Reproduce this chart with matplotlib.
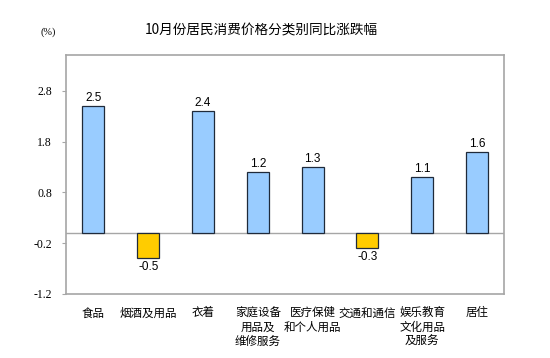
import numpy as np
import matplotlib
matplotlib.use('Agg')
import matplotlib.pyplot as plt

plt.rcParams['font.family'] = ['Noto Sans CJK SC', 'DejaVu Sans']

# data
categories = ['食品', '烟酒及用品', '衣着', '家庭设备\n用品及\n维修服务',
              '医疗保健\n和个人用品', '交通和通信', '娱乐教育\n文化用品\n及服务', '居住']
values = [2.5, -0.5, 2.4, 1.2, 1.3, -0.3, 1.1, 1.6]
yticks = [2.8, 1.8, 0.8, -0.2, -1.2]

pos_color = '#99CCFF'
neg_color = '#FFCC00'
frame_color = '#A6A6A6'

fig = plt.figure(figsize=(5.5, 3.58), dpi=100)
ax = fig.add_axes([0.12, 0.179, 0.797, 0.667])

x = np.arange(len(categories))
colors = [pos_color if v >= 0 else neg_color for v in values]
ax.bar(x, values, width=0.4, color=colors, edgecolor='#1F2A3A', linewidth=0.9, zorder=3)
ax.axhline(0, color=frame_color, linewidth=1.0, zorder=2)

for xi, v in zip(x, values):
    if v >= 0:
        ax.text(xi, v + 0.04, '{:.1f}'.format(v), ha='center', va='bottom',
                fontsize=8.5, family='Liberation Sans')
    else:
        ax.text(xi, v - 0.06, '{:.1f}'.format(v), ha='center', va='top',
                fontsize=8.5, family='Liberation Sans')

ax.set_xlim(-0.5, len(categories) - 0.5)
ax.set_ylim(-1.2, 3.5)
ax.set_yticks(yticks)
ax.set_yticklabels(['{:.1f}'.format(t) for t in yticks], family='Liberation Serif', fontsize=8.5)
ax.tick_params(axis='y', length=3, color=frame_color, pad=7)
ax.set_xticks(x)
ax.set_xticklabels(categories, fontsize=8.3, va='top', linespacing=1.1)
ax.tick_params(axis='x', length=0, pad=9)
for sp in ax.spines.values():
    sp.set_color(frame_color)
    sp.set_linewidth(1.2)

fig.text(0.475, 0.915, '10月份居民消费价格分类别同比涨跌幅', ha='center', va='center', fontsize=9.8)
fig.text(0.087, 0.91, '(%)', ha='center', va='center', fontsize=7.5, family='Liberation Serif')

fig.savefig('out.png', dpi=100)
